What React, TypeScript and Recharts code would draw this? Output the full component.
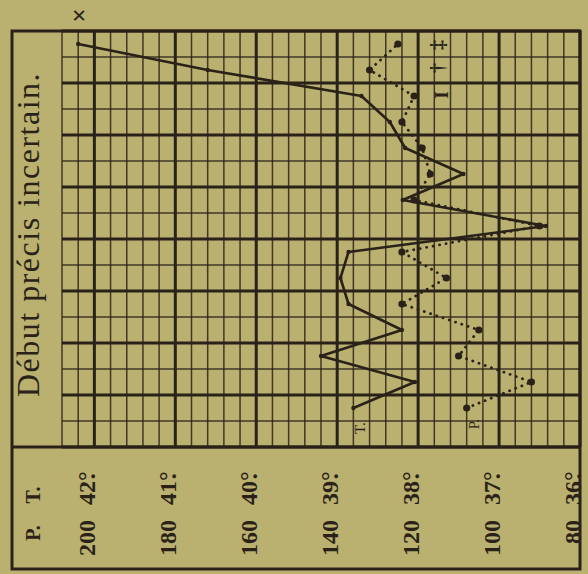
import React from 'react';
import { ComposedChart, Scatter, XAxis, YAxis, ReferenceLine } from 'recharts';

// half-day slots (0 = first column at the bottom, 15 = last at the top)
const cells = [1, 2, 3, 4, 5, 6, 7, 8, 9, 10, 11, 12, 13, 14, 15];
const temperature = [38.8, 38.04, 39.2, 38.2, 38.86, 38.96, 38.86, 36.42, 38.19, 37.44, 38.16, 38.35, 38.7, 40.6, 42.2];
const pulse = [108, 92, 110, 105, 124, 113, 124, 90, 121, 117, 119, 124, 121, 132, 125];

const tempTicks = [42, 41, 40, 39, 38, 37, 36];
const pulseTickLabels = ['200', '180', '160', '140', '120', '100', '80'];

const annotationLabels = ['T.', 'P.', 'I', '†', '‡'];
const annotationTemps = [38.72, 37.31, 37.71, 37.76, 37.76];
const annotationCells = [0.23, 0.38, 13.04, 14.08, 14.96];

const title = 'Début précis incertain.';
const headerP = 'P.';
const headerT = 'T.';
const deathMark = '×';

const W = 588;
const H = 574;
const PAPER = '#bab170';
const INK = '#2a2218';
const FONT = '"Liberation Serif", "DejaVu Serif", serif';
const TEMP_ROW_Y = 505;
const PULSE_ROW_Y = 520;

const tempData = cells.map((c, i) => ({ cell: c, temp: temperature[i] }));
const pulseData = cells.map((c, i) => ({ cell: c, pulse: pulse[i] }));
const annotationData = annotationLabels.map((l, i) => ({ label: l, temp: annotationTemps[i], cell: annotationCells[i] }));

const gridTemps: number[] = [];
for (let k = 0; k <= 32; k++) gridTemps.push(Math.round((36 + 0.2 * k) * 10) / 10);
const gridCells: number[] = [];
for (let k = 0; k <= 16; k++) gridCells.push(k - 0.5);

const annotationSize: Record<string, number> = { 'T.': 15, 'P.': 15, I: 19, '†': 20, '‡': 20 };

const TempTick = (props: any) => {
  const { x, payload } = props;
  const idx = tempTicks.indexOf(payload.value);
  const bx = x + 1;
  const ty = TEMP_ROW_Y;
  const py = PULSE_ROW_Y;
  return (
    <g fill={INK} fontFamily={FONT} fontSize={24} fontWeight="bold">
      <text x={bx} y={ty} transform={`rotate(-90 ${bx} ${ty})`} textAnchor="start">
        <tspan>{payload.value}</tspan>
        <tspan>°</tspan>
        <tspan dx="-0.33em">.</tspan>
      </text>
      <text x={bx} y={py} transform={`rotate(-90 ${bx} ${py})`} textAnchor="end">
        {pulseTickLabels[idx]}
      </text>
    </g>
  );
};

const TempDot = (props: any) => {
  const { cx, cy, payload } = props;
  const last = payload && payload.cell === cells[cells.length - 1];
  return (
    <g>
      <circle cx={cx} cy={cy} r={2.2} fill={INK} />
      {last ? (
        <text x={cx + 1} y={cy - 29} textAnchor="middle" dominantBaseline="central" fontFamily={FONT} fontSize={26} fontWeight="bold" fill={INK}>
          {deathMark}
        </text>
      ) : null}
    </g>
  );
};

const PulseDot = (props: any) => {
  const { cx, cy } = props;
  return <circle cx={cx} cy={cy} r={3.6} fill={INK} />;
};

const AnnotationShape = (props: any) => {
  const { cx, cy, payload } = props;
  const label = payload.label;
  return (
    <text
      x={cx}
      y={cy}
      transform={`rotate(-90 ${cx} ${cy})`}
      textAnchor="middle"
      dominantBaseline="central"
      fontFamily={FONT}
      fontSize={annotationSize[label] || 16}
      fontWeight={label === 'T.' || label === 'P.' ? 'normal' : 'bold'}
      fill={INK}
    >
      {label}
    </text>
  );
};

export default function App() {
  return (
    <div style={{ position: 'absolute', left: 0, top: 0, width: W, height: H, background: PAPER, overflow: 'hidden' }}>
      <ComposedChart width={W} height={H} margin={{ top: 31, right: 8, left: 62, bottom: 0 }}>
        <XAxis
          xAxisId="temp"
          type="number"
          dataKey="temp"
          domain={[36, 42.4]}
          reversed
          ticks={tempTicks}
          interval={0}
          tick={(p: any) => <TempTick {...p} />}
          axisLine={false}
          tickLine={false}
          tickSize={0}
          tickMargin={0}
          height={127}
        />
        <XAxis xAxisId="pulse" type="number" dataKey="pulse" domain={[80, 208]} reversed hide />
        <YAxis type="number" dataKey="cell" domain={[-0.5, 15.5]} hide />

        {gridTemps.map((t) => {
          const major = Math.abs(t - Math.round(t)) < 1e-6;
          return (
            <ReferenceLine
              key={`v${t}`}
              xAxisId="temp"
              x={t}
              stroke={INK}
              strokeWidth={major ? 3 : 1.5}
              strokeOpacity={major ? 1 : 0.85}
            />
          );
        })}
        {gridCells.map((c, k) => {
          const major = k % 2 === 0;
          return (
            <ReferenceLine
              key={`h${c}`}
              xAxisId="temp"
              y={c}
              stroke={INK}
              strokeWidth={major ? 3 : 1.5}
              strokeOpacity={major ? 1 : 0.85}
            />
          );
        })}

        <Scatter
          xAxisId="pulse"
          data={pulseData}
          isAnimationActive={false}
          fill={INK}
          line={{ stroke: INK, strokeWidth: 2.8, strokeDasharray: '0.1 6.5', strokeLinecap: 'round' }}
          shape={(p: any) => <PulseDot {...p} />}
        />
        <Scatter
          xAxisId="temp"
          data={tempData}
          isAnimationActive={false}
          fill={INK}
          line={{ stroke: INK, strokeWidth: 2.6, strokeLinejoin: 'round' }}
          shape={(p: any) => <TempDot {...p} />}
        />
        <Scatter
          xAxisId="temp"
          data={annotationData}
          isAnimationActive={false}
          fill={INK}
          shape={(p: any) => <AnnotationShape {...p} />}
        />
      </ComposedChart>
      <svg width={W} height={H} style={{ position: 'absolute', left: 0, top: 0, pointerEvents: 'none' }}>
        <rect x={12} y={31} width={568} height={538} fill="none" stroke={INK} strokeWidth={3} />
        <line x1={12} y1={447} x2={580} y2={447} stroke={INK} strokeWidth={3} />
        <text
          x={39}
          y={397}
          transform="rotate(-90 39 397)"
          textAnchor="start"
          fontFamily={FONT}
          fontSize={32}
          letterSpacing={1.5}
          fill={INK}
        >
          {title}
        </text>
        <text x={40} y={533} transform="rotate(-90 40 533)" textAnchor="middle" fontFamily={FONT} fontSize={20} fontWeight="bold" fill={INK}>
          {headerP}
        </text>
        <text x={40} y={495} transform="rotate(-90 40 495)" textAnchor="middle" fontFamily={FONT} fontSize={20} fontWeight="bold" fill={INK}>
          {headerT}
        </text>
      </svg>
    </div>
  );
}
